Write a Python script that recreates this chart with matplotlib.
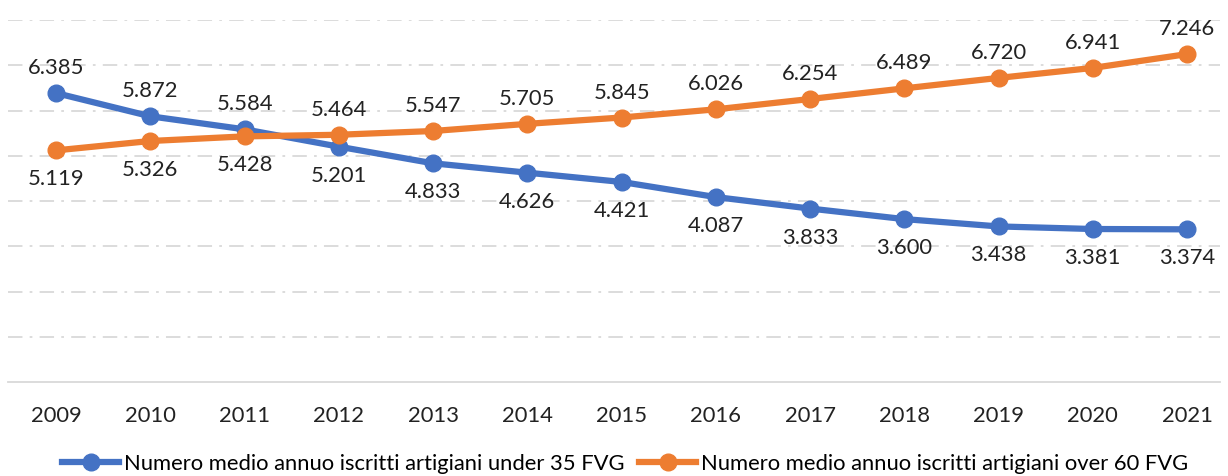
import matplotlib.pyplot as plt
from matplotlib.lines import Line2D

plt.rcParams['font.family'] = ['Lato', 'DejaVu Sans']

years = ['2009', '2010', '2011', '2012', '2013', '2014', '2015',
         '2016', '2017', '2018', '2019', '2020', '2021']
under35 = [6385, 5872, 5584, 5201, 4833, 4626, 4421, 4087, 3833, 3600, 3438, 3381, 3374]
over60 = [5119, 5326, 5428, 5464, 5547, 5705, 5845, 6026, 6254, 6489, 6720, 6941, 7246]

blue = '#4472C4'
orange = '#ED7D31'

fig = plt.figure(figsize=(12.28, 4.76), dpi=100)
ax = fig.add_axes([8 / 1228, 1 - 382 / 476, 1212 / 1228, 362 / 476])

x = list(range(len(years)))
ax.plot(x, under35, color=blue, lw=4.5, marker='o', ms=12, solid_capstyle='round', zorder=3)
ax.plot(x, over60, color=orange, lw=4.5, marker='o', ms=12, solid_capstyle='round', zorder=3)


def fmt(v):
    return f'{v:,}'.replace(',', '.')


# label of the higher series goes above, the lower one below
for i in x:
    for val, other in ((under35[i], over60[i]), (over60[i], under35[i])):
        off = 25 if val > other else -29
        ax.annotate(fmt(val), (i, val), xytext=(0, off), textcoords='offset pixels',
                    ha='center', va='center', fontsize=15.8, color='#222222')

ax.set_ylim(0, 8000)
ax.set_xlim(-0.51, 12.35)
ax.set_yticks(range(1000, 9000, 1000))
ax.set_yticklabels([])
ax.tick_params(axis='y', length=0)
ax.set_xticks(x)
ax.set_xticklabels(years, fontsize=15.8, color='#222222')
ax.tick_params(axis='x', length=0, pad=17)
ax.grid(axis='y', color='#d9d9d9', lw=1.3, linestyle=(0, (8, 4, 1.5, 4)))
for s in ['top', 'right', 'left']:
    ax.spines[s].set_visible(False)
ax.spines['bottom'].set_color('#d9d9d9')
ax.spines['bottom'].set_linewidth(1.3)

handles = [
    Line2D([], [], color=blue, lw=4.5, marker='o', ms=12),
    Line2D([], [], color=orange, lw=4.5, marker='o', ms=12),
]
labels = ['Numero medio annuo iscritti artigiani under 35 FVG',
          'Numero medio annuo iscritti artigiani over 60 FVG']
fig.legend(handles, labels, loc='center', bbox_to_anchor=(625 / 1228, 1 - 464 / 476), ncol=2,
           frameon=False, fontsize=15.8, handlelength=2.6, handletextpad=0.2, columnspacing=0.7)

fig.savefig('out.png', dpi=100)
